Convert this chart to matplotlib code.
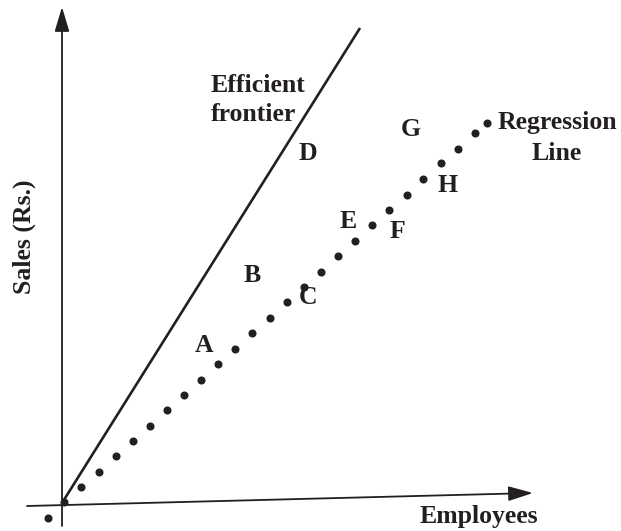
import numpy as np
from matplotlib import pyplot as plt

# data units: origin at the axes crossing, x = employees, y = sales
dots_x = [-14, 2, 19, 37, 54, 71, 88, 105, 122, 139, 156, 173, 190, 208,
          225, 242, 259, 276, 293, 310, 327, 345, 361, 379, 396, 413, 425]
dots_y = [-14, 2, 17, 32, 48, 63, 78, 94, 109, 124, 140, 155, 171, 186,
          202, 217, 232, 248, 263, 279, 294, 309, 325, 341, 355, 371, 381]

frontier_x = [0, 298]
frontier_y = [1, 476]

point_labels = ["A", "B", "C", "D", "E", "F", "G", "H"]
point_x = [142, 190, 246, 246, 286, 335, 349, 386]
point_y = [159, 228, 207, 350, 282, 273, 374, 319]


def main():
    plt.rcParams["font.family"] = ["Liberation Serif", "DejaVu Serif"]
    fig = plt.figure(figsize=(6.21, 5.31), dpi=100)
    ax = fig.add_axes([0, 0, 1, 1])
    ax.set_xlim(-62, 559)
    ax.set_ylim(-27, 504)
    ax.axis("off")

    # axes with arrow heads
    arrow = dict(arrowstyle="-|>,head_length=1.5,head_width=0.45", lw=1.3,
                 color="#231f20", mutation_scale=10, shrinkA=0, shrinkB=0)
    ax.annotate("", xy=(0, 497), xytext=(0, -22), arrowprops=arrow)
    ax.annotate("", xy=(471, 11), xytext=(-35, -2), arrowprops=arrow)

    # efficient frontier and regression dots
    ax.plot(frontier_x, frontier_y, color="#231f20", lw=1.9, solid_capstyle="butt")
    ax.plot(dots_x, dots_y, "o", color="#231f20", ms=4.8)

    fs = 18.5
    for lab, x, y in zip(point_labels, point_x, point_y):
        ax.text(x, y, lab, fontsize=fs, fontweight="bold", color="#231f20",
                ha="center", va="center")

    ax.text(149, 404, "Efficient\nfrontier", fontsize=fs, fontweight="bold",
            color="#231f20", ha="left", va="center", linespacing=1.35)
    ax.text(495, 366, "Regression\nLine", fontsize=fs, fontweight="bold",
            color="#231f20", ha="center", va="center", linespacing=1.4)
    ax.text(417, -12, "Employees", fontsize=fs, fontweight="bold",
            color="#231f20", ha="center", va="center")
    ax.text(-38, 267, "Sales (Rs.)", fontsize=fs, fontweight="bold",
            color="#231f20", ha="center", va="center", rotation=90)

    fig.savefig("out.png", dpi=100)


if __name__ == "__main__":
    main()
